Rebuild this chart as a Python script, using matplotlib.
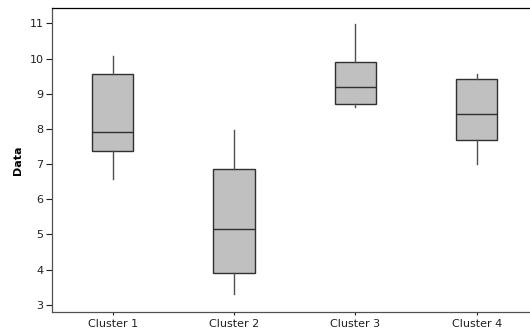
import matplotlib
matplotlib.use("Agg")
import matplotlib.pyplot as plt

# values
clusters = ["Cluster 1", "Cluster 2", "Cluster 3", "Cluster 4"]
whis_lo = [6.57, 3.30, 8.62, 6.99]
q1 = [7.38, 3.89, 8.71, 7.69]
median = [7.91, 5.15, 9.19, 8.43]
q3 = [9.57, 6.86, 9.89, 9.42]
whis_hi = [10.07, 7.96, 10.97, 9.57]
yticks = [3, 4, 5, 6, 7, 8, 9, 10, 11]

stats = []
for i in range(len(clusters)):
    stats.append({"label": clusters[i], "whislo": whis_lo[i], "q1": q1[i],
                  "med": median[i], "q3": q3[i], "whishi": whis_hi[i],
                  "fliers": []})

plt.rcParams.update({'font.size': 8, 'font.family': 'DejaVu Sans'})
fig = plt.figure(figsize=(5.3, 3.33), dpi=100)
ax = fig.add_axes([52 / 530, 1 - 311.7 / 333, (537.5 - 52) / 530, (311.7 - 8.3) / 333])

ax.bxp(stats, widths=0.34, showcaps=False, patch_artist=True,
       boxprops=dict(facecolor="#c0c0c0", edgecolor="#303030", linewidth=1.0),
       medianprops=dict(color="#303030", linewidth=1.0),
       whiskerprops=dict(color="#505050", linewidth=1.0))

ax.set_xlim(0.5, 4.5)
ax.set_ylim(2.8, 11.43)
ax.set_yticks(yticks)
ax.set_ylabel("Data", fontweight="bold", labelpad=5)
ax.spines['right'].set_visible(False)
ax.tick_params(axis='y', direction='out', length=4, width=0.8, colors='#202020', pad=2)
ax.tick_params(axis='x', direction='out', length=2.5, width=0.8, colors='#202020', pad=3)
ax.spines['left'].set_color('#505050')
ax.spines['bottom'].set_color('#505050')
for s in ['left', 'bottom', 'top']:
    ax.spines[s].set_linewidth(0.9)

fig.savefig("out.png", dpi=100)
